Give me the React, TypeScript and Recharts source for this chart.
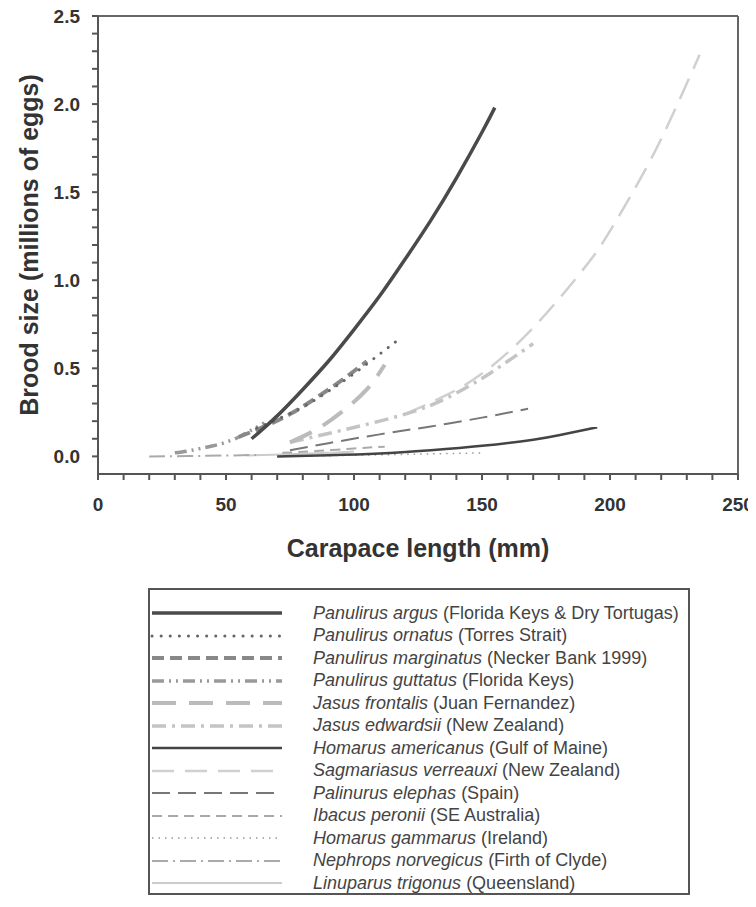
import { LineChart, Line, XAxis, YAxis, ReferenceLine } from 'recharts';

// axis ticks (minor every 10 mm / 0.1 million, labelled every 50 / 0.5)
const xTicks = [0, 10, 20, 30, 40, 50, 60, 70, 80, 90, 100, 110, 120, 130, 140, 150, 160, 170, 180, 190, 200, 210, 220, 230, 240, 250];
const yTicks = [0, 0.1, 0.2, 0.3, 0.4, 0.5, 0.6, 0.7, 0.8, 0.9, 1.0, 1.1, 1.2, 1.3, 1.4, 1.5, 1.6, 1.7, 1.8, 1.9, 2.0, 2.1, 2.2, 2.3, 2.4, 2.5];

// [carapace length mm, brood size millions]
const argus = [[60, 0.10], [70, 0.23], [80, 0.38], [90, 0.54], [100, 0.72], [110, 0.91], [120, 1.12], [130, 1.34], [140, 1.58], [150, 1.84], [155, 1.98]];
const ornatus = [[62, 0.16], [70, 0.21], [80, 0.28], [90, 0.37], [100, 0.47], [110, 0.58], [118, 0.67]];
const marginatus = [[55, 0.11], [65, 0.17], [75, 0.24], [85, 0.33], [95, 0.43], [105, 0.54]];
const guttatus = [[30, 0.02], [35, 0.03], [40, 0.045], [45, 0.06], [50, 0.08], [55, 0.11], [60, 0.15], [65, 0.19]];
const frontalis = [[75, 0.08], [85, 0.15], [95, 0.25], [105, 0.38], [112, 0.52]];
const edwardsii = [[75, 0.08], [90, 0.13], [110, 0.2], [130, 0.29], [145, 0.4], [155, 0.49], [170, 0.64]];
const americanus = [[70, 0.0], [90, 0.006], [110, 0.016], [130, 0.035], [150, 0.06], [170, 0.095], [180, 0.12], [195, 0.165]];
const verreauxi = [[120, 0.24], [135, 0.34], [150, 0.47], [170, 0.73], [190, 1.07], [200, 1.28], [215, 1.66], [227, 2.02], [235, 2.28]];
const elephas = [[75, 0.035], [90, 0.075], [110, 0.125], [130, 0.17], [150, 0.22], [168, 0.27]];
const peronii = [[72, 0.02], [85, 0.03], [100, 0.045], [112, 0.055]];
const gammarus = [[70, 0.0], [90, 0.004], [110, 0.009], [130, 0.014], [150, 0.02]];
const norvegicus = [[20, 0.0], [35, 0.002], [50, 0.005], [62, 0.008]];
const trigonus = [[58, 0.005], [75, 0.012], [90, 0.02], [100, 0.028]];

const toPts = (arr: number[][]) => arr.map(([x, y]) => ({ x, y }));

const series = [
  { id: 'argus', data: argus, species: 'Panulirus argus', place: '(Florida Keys & Dry Tortugas)', color: '#4a4a4a', width: 3.5 },
  { id: 'ornatus', data: ornatus, species: 'Panulirus ornatus', place: '(Torres Strait)', color: '#666', width: 3, dash: '0.1 9', cap: 'round' },
  { id: 'marginatus', data: marginatus, species: 'Panulirus marginatus', place: '(Necker Bank 1999)', color: '#888', width: 4, dash: '12 6' },
  { id: 'guttatus', data: guttatus, species: 'Panulirus guttatus', place: '(Florida Keys)', color: '#999', width: 3.5, dash: '12 5 2 5 2 5' },
  { id: 'frontalis', data: frontalis, species: 'Jasus frontalis', place: '(Juan Fernandez)', color: '#bbb', width: 4, dash: '24 13' },
  { id: 'edwardsii', data: edwardsii, species: 'Jasus edwardsii', place: '(New Zealand)', color: '#c4c4c4', width: 3.5, dash: '14 6 3 6' },
  { id: 'americanus', data: americanus, species: 'Homarus americanus', place: '(Gulf of Maine)', color: '#444', width: 2.5 },
  { id: 'verreauxi', data: verreauxi, species: 'Sagmariasus verreauxi', place: '(New Zealand)', color: '#d0d0d0', width: 2.5, dash: '22 11' },
  { id: 'elephas', data: elephas, species: 'Palinurus elephas', place: '(Spain)', color: '#777', width: 2, dash: '18 8' },
  { id: 'peronii', data: peronii, species: 'Ibacus peronii', place: '(SE Australia)', color: '#aaa', width: 2, dash: '10 6' },
  { id: 'gammarus', data: gammarus, species: 'Homarus gammarus', place: '(Ireland)', color: '#999', width: 1.5, dash: '1.5 5' },
  { id: 'norvegicus', data: norvegicus, species: 'Nephrops norvegicus', place: '(Firth of Clyde)', color: '#aaa', width: 2, dash: '16 5 2 5' },
  { id: 'trigonus', data: trigonus, species: 'Linuparus trigonus', place: '(Queensland)', color: '#ccc', width: 2 },
];

const font = '"Liberation Sans", Arial, sans-serif';
const axisColor = '#555';

function LegendBox() {
  return (
    <div
      style={{
        position: 'absolute',
        left: 140,
        top: 580,
        width: 542,
        height: 307,
        boxSizing: 'border-box',
        border: '2px solid #555',
        paddingTop: 12,
        fontFamily: font,
        fontSize: 18,
        color: '#444',
      }}
    >
      {series.map((s) => (
        <div key={s.id} style={{ display: 'flex', alignItems: 'center', height: 22.5 }}>
          <svg width={134} height={10}>
            <line
              x1={2}
              x2={132}
              y1={5}
              y2={5}
              stroke={s.color}
              strokeWidth={s.width}
              strokeDasharray={s.dash}
              strokeLinecap={(s.cap as any) || 'butt'}
            />
          </svg>
          <span style={{ marginLeft: 29, whiteSpace: 'nowrap' }}>
            <i>{s.species}</i> {s.place}
          </span>
        </div>
      ))}
    </div>
  );
}

export default function App() {
  const drawOrder = [...series].reverse();
  return (
    <div style={{ position: 'relative', width: 748, height: 890, background: '#fff' }}>
      <LineChart width={748} height={566} margin={{ top: 8, right: 18, left: 20, bottom: 0 }} style={{ overflow: 'visible' }}>
        <XAxis
          dataKey="x"
          type="number"
          domain={[0, 250]}
          ticks={xTicks}
          interval={0}
          allowDuplicatedCategory={false}
          height={100}
          stroke={axisColor}
          strokeWidth={2}
          tickSize={6}
          tickMargin={18}
          tick={{ fill: '#333', fontSize: 19, fontWeight: 700, fontFamily: font }}
          tickFormatter={(v: number) => (v % 50 === 0 ? String(v) : '')}
          label={{
            value: 'Carapace length (mm)',
            position: 'insideBottom',
            offset: 17,
            style: { fill: '#333', fontSize: 25, fontWeight: 700, fontFamily: font },
          }}
        />
        <YAxis
          type="number"
          domain={[-0.1, 2.5]}
          ticks={yTicks}
          interval={0}
          width={70}
          stroke={axisColor}
          strokeWidth={2}
          tickSize={6}
          tickMargin={12}
          tick={{ fill: '#333', fontSize: 19, fontWeight: 700, fontFamily: font }}
          tickFormatter={(v: number) => (Math.abs(v * 2 - Math.round(v * 2)) < 1e-6 ? v.toFixed(1) : '')}
          label={{
            value: 'Brood size (millions of eggs)',
            angle: -90,
            position: 'insideLeft',
            dx: -4,
            style: { textAnchor: 'middle', fill: '#333', fontSize: 25, fontWeight: 700, fontFamily: font },
          }}
        />
        <ReferenceLine y={2.5} stroke="#666" strokeWidth={2} />
        <ReferenceLine x={250} stroke="#666" strokeWidth={2} />
        {drawOrder.map((s) => (
          <Line
            key={s.id}
            data={toPts(s.data)}
            dataKey="y"
            type="natural"
            stroke={s.color}
            strokeWidth={s.width}
            strokeDasharray={s.dash}
            strokeLinecap={(s.cap as any) || 'butt'}
            dot={false}
            activeDot={false}
            isAnimationActive={false}
          />
        ))}
      </LineChart>
      <LegendBox />
    </div>
  );
}
